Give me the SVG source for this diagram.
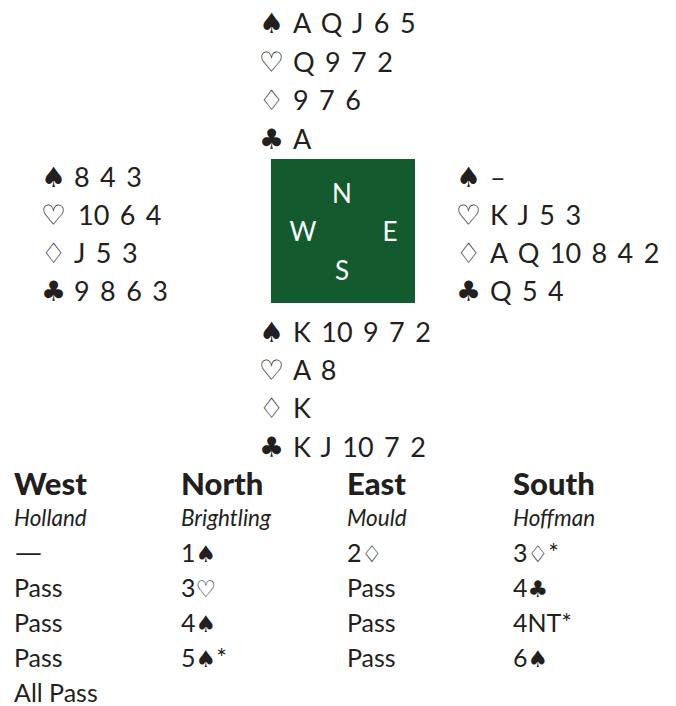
<svg xmlns="http://www.w3.org/2000/svg" width="676" height="706" viewBox="0 0 676 706">
<style>
.c{font-family:Lato,"Open Sans","Liberation Sans",sans-serif;font-size:27px;fill:#231f20;word-spacing:3.5px}
.s{font-family:"DejaVu Sans",sans-serif;font-size:28px;fill:#231f20}
.o{font-family:"DejaVu Sans",sans-serif;font-size:28px;fill:#231f20}
.d{font-family:Lato,"Open Sans",sans-serif;font-size:26px;fill:#ffffff;text-anchor:middle}
.h{font-family:Lato,"Open Sans",sans-serif;font-size:31px;font-weight:900;fill:#231f20}
.n{font-family:Lato,"Open Sans",sans-serif;font-size:22.5px;font-style:italic;fill:#231f20}
.b{font-family:Lato,"Open Sans",sans-serif;font-size:25px;fill:#231f20}
.bs{font-family:"DejaVu Sans",sans-serif;font-size:23px}
</style>
<rect width="676" height="706" fill="#ffffff"/>
<g id="north">
<text class="s" x="259" y="33">♠</text><text class="c" x="293" y="33">A Q J 6 5</text>
<text class="o" x="259" y="72">♡</text><text class="c" x="293" y="72">Q 9 7 2</text>
<text class="o" x="259" y="110">♢</text><text class="c" x="293" y="110">9 7 6</text>
<text class="s" x="259" y="149">♣</text><text class="c" x="293" y="149">A</text>
</g>
<g id="west">
<text class="s" x="41" y="187">♠</text><text class="c" x="74" y="187">8 4 3</text>
<text class="o" x="41" y="225">♡</text><text class="c" x="78" y="225">10 6 4</text>
<text class="o" x="41" y="263">♢</text><text class="c" x="74" y="263">J 5 3</text>
<text class="s" x="41" y="301">♣</text><text class="c" x="74" y="301">9 8 6 3</text>
</g>
<g id="east">
<text class="s" x="456" y="187">♠</text><text class="c" x="490" y="187">–</text>
<text class="o" x="456" y="225">♡</text><text class="c" x="490" y="225">K J 5 3</text>
<text class="o" x="456" y="263">♢</text><text class="c" x="490" y="263">A Q 10 8 4 2</text>
<text class="s" x="456" y="301">♣</text><text class="c" x="490" y="301">Q 5 4</text>
</g>
<g id="table">
<rect x="271" y="159" width="144" height="144" fill="#145a2f"/>
<text class="d" x="342" y="203">N</text>
<text class="d" x="303" y="241">W</text>
<text class="d" x="390" y="241">E</text>
<text class="d" x="342" y="280">S</text>
</g>
<g id="south">
<text class="s" x="259" y="342">♠</text><text class="c" x="293" y="342">K 10 9 7 2</text>
<text class="o" x="259" y="380">♡</text><text class="c" x="293" y="380">A 8</text>
<text class="o" x="259" y="418">♢</text><text class="c" x="293" y="418">K</text>
<text class="s" x="259" y="457">♣</text><text class="c" x="293" y="457">K J 10 7 2</text>
</g>
<g id="auction">
<text class="h" x="14" y="495">West</text>
<text class="h" x="181" y="495">North</text>
<text class="h" x="347" y="495">East</text>
<text class="h" x="513" y="495">South</text>
<text class="n" x="14" y="526">Holland</text>
<text class="n" x="181" y="526">Brightling</text>
<text class="n" x="347" y="526">Mould</text>
<text class="n" x="513" y="526">Hoffman</text>
<text class="b" x="14" y="562" textLength="29" lengthAdjust="spacingAndGlyphs">—</text>
<text class="b" x="181" y="562">1<tspan class="bs">♠</tspan></text>
<text class="b" x="347" y="562">2<tspan class="bs">♢</tspan></text>
<text class="b" x="513" y="562">3<tspan class="bs">♢</tspan>*</text>
<text class="b" x="14" y="597">Pass</text>
<text class="b" x="181" y="597">3<tspan class="bs">♡</tspan></text>
<text class="b" x="347" y="597">Pass</text>
<text class="b" x="513" y="597">4<tspan class="bs">♣</tspan></text>
<text class="b" x="14" y="632">Pass</text>
<text class="b" x="181" y="632">4<tspan class="bs">♠</tspan></text>
<text class="b" x="347" y="632">Pass</text>
<text class="b" x="513" y="632">4NT*</text>
<text class="b" x="14" y="667">Pass</text>
<text class="b" x="181" y="667">5<tspan class="bs">♠</tspan>*</text>
<text class="b" x="347" y="667">Pass</text>
<text class="b" x="513" y="667">6<tspan class="bs">♠</tspan></text>
<text class="b" x="14" y="702">All Pass</text>
</g>
</svg>
